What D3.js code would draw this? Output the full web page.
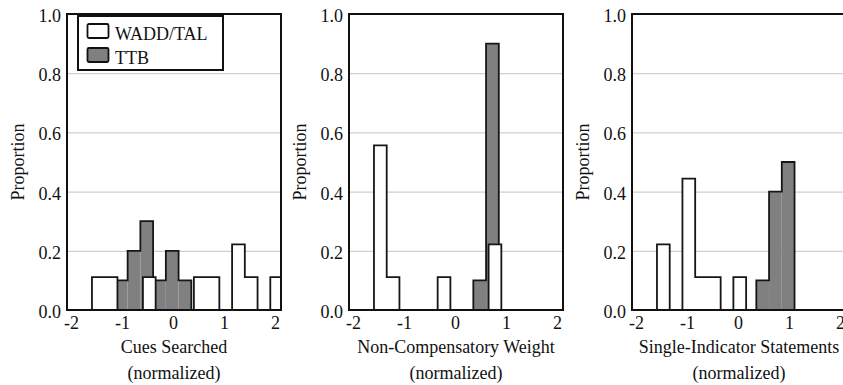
<!DOCTYPE html>
<html>
<head>
<meta charset="utf-8">
<script src="https://cdn.jsdelivr.net/npm/d3@7"></script>
<style>
  body { margin: 0; background: #fff; }
  svg { display: block; font-family: "Liberation Serif", "Times New Roman", serif; }
</style>
</head>
<body>
<svg id="chart" width="843" height="385"></svg>
<script>
// panel titles
const xTitles = ["Cues Searched", "Non-Compensatory Weight", "Single-Indicator Statements"];
const xSubtitle = "(normalized)";
const seriesNames = ["WADD/TAL", "TTB"];

// tick labels
const xTicks = [-2, -1, 0, 1, 2];
const yTicks = [0, 0.2, 0.4, 0.6, 0.8, 1.0];

const binWidth = 0.25;

// left edge of each bin and proportion, WADD/TAL (9 people) per panel
const waddBins = [
  [-1.59, -1.34, -0.59, 0.41, 0.66, 1.16, 1.41, 1.91],
  [-1.59, -1.34, -0.34, 0.66],
  [-1.59, -1.09, -0.84, -0.59, -0.09]
];
const waddVals = [
  [0.111, 0.111, 0.111, 0.111, 0.111, 0.222, 0.111, 0.111],
  [0.556, 0.111, 0.111, 0.222],
  [0.222, 0.444, 0.111, 0.111, 0.111]
];

// TTB (10 people) per panel
const ttbBins = [
  [-1.14, -0.89, -0.64, -0.39, -0.14, 0.11],
  [0.36, 0.61],
  [0.36, 0.61, 0.86]
];
const ttbVals = [
  [0.1, 0.2, 0.3, 0.1, 0.2, 0.1],
  [0.1, 0.9],
  [0.1, 0.4, 0.5]
];

const svg = d3.select("#chart");
const panelLeft = [67, 349, 632];
const plotTop = 14, plotBottom = 310, w = 214;
const fs = 18;

const y = d3.scaleLinear().domain([0, 1]).range([plotBottom, plotTop]);

function bins(x0s, vals) {
  return x0s.map((d, i) => ({ x0: d, x1: d + binWidth, v: vals[i] }));
}

// outline of runs of touching bins, like a step histogram
function runs(data) {
  const out = [];
  let cur = [];
  data.forEach(b => {
    if (cur.length && Math.abs(cur[cur.length - 1].x1 - b.x0) > 1e-6) { out.push(cur); cur = []; }
    cur.push(b);
  });
  if (cur.length) out.push(cur);
  return out;
}

function drawSeries(g, x, data, fill) {
  g.append("g").selectAll("rect")
    .data(data)
    .enter().append("rect")
    .attr("x", d => x(d.x0))
    .attr("y", d => y(d.v))
    .attr("width", d => x(d.x1) - x(d.x0))
    .attr("height", d => y(0) - y(d.v))
    .attr("fill", fill);

  const line = d3.line().x(p => x(p[0])).y(p => y(p[1]));
  runs(data).forEach(r => {
    const pts = [[r[0].x0, 0]];
    r.forEach(b => { pts.push([b.x0, b.v]); pts.push([b.x1, b.v]); });
    pts.push([r[r.length - 1].x1, 0]);
    g.append("path")
      .attr("d", line(pts))
      .attr("fill", "none")
      .attr("stroke", "#161616")
      .attr("stroke-width", 1.8)
      .attr("stroke-linejoin", "miter");
  });
}

panelLeft.forEach((left, i) => {
  const x = d3.scaleLinear().domain([-2.08, 2.12]).range([left, left + w]);
  const g = svg.append("g");

  g.append("clipPath").attr("id", "clip" + i)
    .append("rect")
    .attr("x", left).attr("y", plotTop)
    .attr("width", w).attr("height", plotBottom - plotTop);

  // gridlines + y labels
  const ya = g.append("g")
    .attr("transform", "translate(" + left + ",0)")
    .call(d3.axisLeft(y).tickValues(yTicks).tickSize(-w).tickPadding(6).tickFormat(d3.format(".1f")));
  ya.select(".domain").remove();
  ya.selectAll("line").attr("stroke", "#c4c4c4").attr("stroke-width", 1);
  ya.selectAll("text").attr("font-size", fs).attr("fill", "#111").attr("dy", "0.42em")
    .style("font-family", "Liberation Serif");

  const bars = g.append("g").attr("clip-path", "url(#clip" + i + ")");
  drawSeries(bars, x, bins(ttbBins[i], ttbVals[i]), "#808080");
  drawSeries(bars, x, bins(waddBins[i], waddVals[i]), "#ffffff");

  // x axis labels
  const xa = g.append("g")
    .attr("transform", "translate(0," + plotBottom + ")")
    .call(d3.axisBottom(x).tickValues(xTicks).tickSize(0).tickPadding(6).tickFormat(d3.format("d")));
  xa.select(".domain").remove();
  xa.selectAll("text").attr("font-size", fs).attr("fill", "#111")
    .style("font-family", "Liberation Serif")
    .text(d => d < 0 ? "-" + Math.abs(d) : d);

  // frame
  g.append("rect")
    .attr("x", left).attr("y", plotTop)
    .attr("width", w).attr("height", plotBottom - plotTop)
    .attr("fill", "none").attr("stroke", "#111").attr("stroke-width", 2);

  // titles
  g.append("text")
    .attr("x", left + w / 2).attr("y", 353)
    .attr("text-anchor", "middle").attr("font-size", fs).attr("fill", "#111")
    .text(xTitles[i]);
  g.append("text")
    .attr("x", left + w / 2).attr("y", 379)
    .attr("text-anchor", "middle").attr("font-size", fs).attr("fill", "#111")
    .text(xSubtitle);
  g.append("text")
    .attr("transform", "translate(" + (left - 43) + "," + ((plotTop + plotBottom) / 2) + ") rotate(-90)")
    .attr("text-anchor", "middle").attr("font-size", fs).attr("fill", "#111")
    .text("Proportion");

  // legend in the first panel
  if (i === 0) {
    const lg = g.append("g").attr("transform", "translate(" + (left + 11) + "," + (plotTop + 2) + ")");
    lg.append("rect").attr("width", 145).attr("height", 54)
      .attr("fill", "#fff").attr("stroke", "#111").attr("stroke-width", 2);
    const fills = ["#ffffff", "#808080"];
    seriesNames.forEach((name, k) => {
      lg.append("rect")
        .attr("x", 9.5).attr("y", 8 + k * 24)
        .attr("width", 21).attr("height", 14).attr("rx", 1.5)
        .attr("fill", fills[k]).attr("stroke", "#111").attr("stroke-width", 1.8);
      lg.append("text")
        .attr("x", 37).attr("y", 24 + k * 24)
        .attr("font-size", fs).attr("fill", "#111")
        .text(name);
    });
  }
});
</script>
</body>
</html>
